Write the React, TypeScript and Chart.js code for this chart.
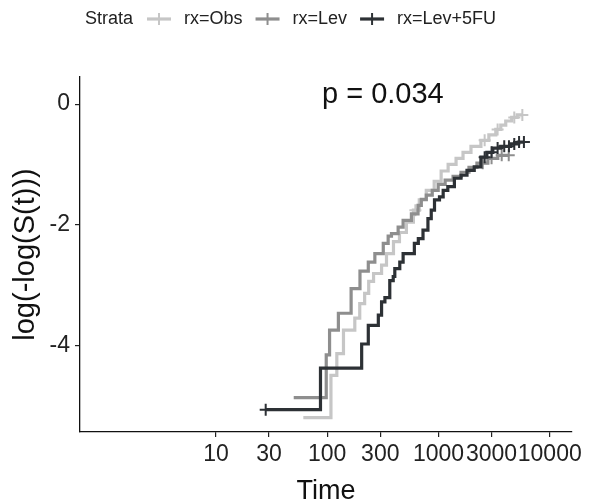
import React, { useEffect, useRef } from "react";
import { Chart, registerables } from "chart.js";

Chart.register(...registerables);

// ---- data ----
const strata = ["rx=Obs", "rx=Lev", "rx=Lev+5FU"];
const colors = ["#c6c6c6", "#8e8e8e", "#2d3135"];

const obsTime = [61, 108, 122, 140, 177, 196, 217, 236, 261, 308, 341, 394, 446, 515, 595, 672, 777, 915, 1057, 1221, 1439, 1662, 1959, 2406, 2836, 3275, 3630, 4022, 4550, 5100, 5671];
const obsValue = [-5.2, -4.5, -4.14, -3.75, -3.55, -3.31, -3.14, -2.94, -2.81, -2.67, -2.48, -2.28, -2.13, -1.96, -1.76, -1.59, -1.43, -1.28, -1.11, -1.0, -0.9, -0.8, -0.7, -0.6, -0.51, -0.42, -0.35, -0.28, -0.22, -0.18, -0.18];
const obsCensorTime = [620, 2600, 3400, 4800, 5671];
const obsCensorValue = [-1.76, -0.6, -0.42, -0.22, -0.18];

const levTime = [50, 98, 105, 126, 164, 197, 234, 268, 319, 353, 378, 434, 481, 571, 655, 701, 777, 879, 994, 1148, 1353, 1595, 1880, 2216, 2779, 3412, 4280];
const levValue = [-4.87, -4.16, -3.75, -3.47, -3.06, -2.77, -2.62, -2.48, -2.31, -2.19, -2.15, -2.04, -1.93, -1.82, -1.68, -1.58, -1.51, -1.43, -1.33, -1.26, -1.2, -1.13, -1.05, -0.98, -0.9, -0.85, -0.85];
const levCensorTime = [2500, 3000, 3700, 4280];
const levCensorValue = [-0.98, -0.9, -0.85, -0.85];

const lev5Time = [28, 87, 204, 234, 288, 308, 330, 365, 392, 405, 449, 481, 607, 659, 726, 804, 861, 921, 1021, 1102, 1213, 1390, 1595, 1804, 2096, 2406, 2722, 3079, 3630, 4458, 5200, 5861];
const lev5Value = [-5.07, -4.38, -3.98, -3.67, -3.5, -3.28, -3.21, -2.93, -2.86, -2.73, -2.62, -2.48, -2.31, -2.23, -2.09, -1.9, -1.76, -1.59, -1.54, -1.43, -1.37, -1.23, -1.18, -1.1, -1.04, -0.88, -0.8, -0.73, -0.7, -0.66, -0.63, -0.63];
const lev5CensorTime = [28, 2600, 3000, 3400, 3900, 4300, 4800, 5300, 5861];
const lev5CensorValue = [-5.07, -0.88, -0.8, -0.73, -0.7, -0.7, -0.66, -0.63, -0.63];

const xTicks = [10, 30, 100, 300, 1000, 3000, 10000];
const yTicks = [-4, -2, 0];
const xTitle = "Time";
const yTitle = "log(-log(S(t)))";
const legendTitle = "Strata";
const pValueLabel = "p = 0.034";

const FONT = '"Liberation Sans", Arial, Helvetica, sans-serif';

const curves = [
  { t: obsTime, v: obsValue, ct: obsCensorTime, cv: obsCensorValue },
  { t: levTime, v: levValue, ct: levCensorTime, cv: levCensorValue },
  { t: lev5Time, v: lev5Value, ct: lev5CensorTime, cv: lev5CensorValue },
];

const annotationPlugin = {
  id: "survAnnotations",
  afterDraw(chart: any) {
    const ctx = chart.ctx;
    const area = chart.chartArea;
    ctx.save();
    // p-value
    ctx.font = `29px ${FONT}`;
    ctx.fillStyle = "#111";
    ctx.textBaseline = "middle";
    ctx.textAlign = "left";
    ctx.fillText(pValueLabel, area.left + 242, 95);

    // legend
    ctx.font = `18px ${FONT}`;
    ctx.fillStyle = "#222";
    const y = 19;
    let x = 85;
    ctx.fillText(legendTitle, x, y);
    x += ctx.measureText(legendTitle).width + 14;
    strata.forEach((s, i) => {
      ctx.strokeStyle = colors[i];
      ctx.lineWidth = 3.2;
      ctx.beginPath();
      ctx.moveTo(x, y);
      ctx.lineTo(x + 24, y);
      ctx.stroke();
      ctx.lineWidth = 2;
      ctx.beginPath();
      ctx.moveTo(x + 12, y - 6);
      ctx.lineTo(x + 12, y + 6);
      ctx.stroke();
      x += 24 + 13;
      ctx.fillStyle = "#222";
      ctx.fillText(s, x, y);
      x += ctx.measureText(s).width + 13;
    });
    ctx.restore();
  },
};

export default function App() {
  const ref = useRef<HTMLCanvasElement | null>(null);

  useEffect(() => {
    document.body.style.margin = "0";
    const canvas = ref.current;
    if (!canvas) return;

    const datasets: any[] = [];
    curves.forEach((c, i) => {
      datasets.push({
        label: strata[i],
        data: c.t.map((t, k) => ({ x: t, y: c.v[k] })),
        borderColor: colors[i],
        backgroundColor: colors[i],
        borderWidth: 3.2,
        stepped: "before",
        pointRadius: 0,
        fill: false,
        order: 3 - i,
      });
    });
    curves.forEach((c, i) => {
      datasets.push({
        label: strata[i] + " censor",
        data: c.ct.map((t, k) => ({ x: t, y: c.cv[k] })),
        borderColor: colors[i],
        backgroundColor: colors[i],
        showLine: false,
        pointStyle: "cross",
        pointRadius: 6,
        pointBorderWidth: 2,
        order: 3 - i,
      });
    });

    const chart = new Chart(canvas, {
      type: "line",
      data: { datasets },
      plugins: [annotationPlugin],
      options: {
        animation: false,
        responsive: false,
        devicePixelRatio: 1,
        layout: { padding: { top: 77, left: 0, right: 43, bottom: 0 } },
        plugins: { legend: { display: false }, tooltip: { enabled: false } },
        scales: {
          x: {
            type: "logarithmic",
            min: 0.63,
            max: 15850,
            afterBuildTicks: (scale: any) => {
              scale.ticks = xTicks.map((v) => ({ value: v }));
            },
            afterFit: (scale: any) => {
              scale.height = 68;
            },
            ticks: {
              autoSkip: false,
              maxRotation: 0,
              minRotation: 0,
              padding: 4,
              color: "#222",
              font: { family: FONT, size: 23 },
              callback: (v: any) => String(v),
            },
            grid: { display: true, drawOnChartArea: false, drawTicks: true, tickLength: 5, color: "#222", lineWidth: 1.2 },
            border: { display: true, color: "#111", width: 1.3 },
            title: {
              display: true,
              text: xTitle,
              color: "#111",
              font: { family: FONT, size: 27, lineHeight: 0.65 },
              padding: { top: 0, bottom: 0 },
            },
          },
          y: {
            type: "linear",
            min: -5.44,
            max: 0.45,
            afterBuildTicks: (scale: any) => {
              scale.ticks = yTicks.map((v) => ({ value: v }));
            },
            afterFit: (scale: any) => {
              scale.width = 80;
            },
            ticks: {
              padding: 5,
              color: "#222",
              font: { family: FONT, size: 23 },
              callback: (v: any) => String(v),
            },
            grid: { display: true, drawOnChartArea: false, drawTicks: true, tickLength: 5, color: "#222", lineWidth: 1.2 },
            border: { display: true, color: "#111", width: 1.3 },
            title: {
              display: true,
              text: yTitle,
              color: "#111",
              font: { family: FONT, size: 29, lineHeight: 1.0 },
              padding: { top: 11, bottom: 0 },
            },
          },
        },
      },
    } as any);

    return () => chart.destroy();
  }, []);

  return (
    <div style={{ width: 615, height: 500, background: "#fff" }}>
      <canvas ref={ref} width={615} height={500} style={{ display: "block", width: 615, height: 500 }} />
    </div>
  );
}
